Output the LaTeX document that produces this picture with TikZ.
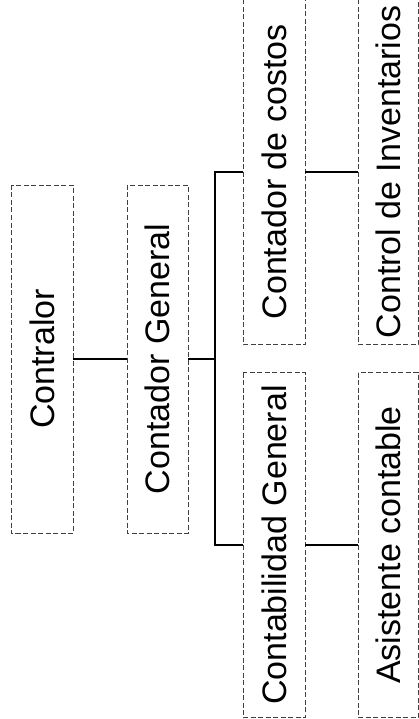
\documentclass[tikz,border=0pt]{standalone}
\usepackage{fontspec}
\setmainfont{Liberation Sans}
\begin{document}
\begin{tikzpicture}[x=1pt,y=-1pt,
  orgbox/.style={draw=black!75, line width=0.7pt, dash pattern=on 5pt off 2.5pt,
    rectangle, rotate=90, inner sep=0pt, minimum width=348pt,
    font=\fontsize{34}{38}\selectfont},
  link/.style={draw=black, line width=2.4pt}]
  \useasboundingbox (0,0) rectangle (419,719);

  % first two levels
  \node[orgbox, minimum height=62pt] (contralor) at (42,359) {Contralor};
  \node[orgbox, minimum height=61pt] (general) at (157.5,359) {Contador General};

  % third level
  \node[orgbox, minimum height=62pt, minimum width=345pt] (costos) at (274,172) {Contador de costos};
  \node[orgbox, minimum height=62pt, minimum width=345pt] (contab) at (274,545) {Contabilidad General};

  % fourth level
  \node[orgbox, minimum height=60pt, minimum width=345pt] (invent) at (388,172) {Control de Inventarios};
  \node[orgbox, minimum height=60pt, minimum width=345pt] (asist) at (388,545) {Asistente contable};

  % connectors
  \coordinate (bus) at (215,359);
  \draw[link] (contralor.south) -- (general.north);
  \draw[link] (general.south) -- (bus);
  \draw[link] (costos.north) -| (bus) |- (contab.north);
  \draw[link] (costos.south) -- (invent.north);
  \draw[link] (contab.south) -- (asist.north);
\end{tikzpicture}
\end{document}
